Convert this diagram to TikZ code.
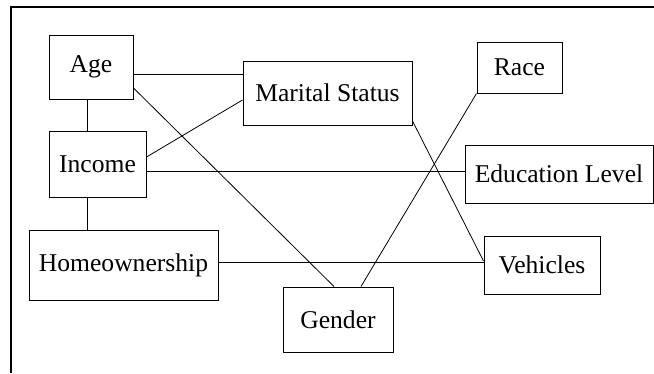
\documentclass[tikz,border=0pt]{standalone}
\usepackage{fontspec}
\setmainfont{Liberation Serif}
\begin{document}
\begin{tikzpicture}[x=1pt,y=-1pt,
  box/.style={draw, line width=1pt, rectangle, inner sep=0pt, font=\fontsize{25.6}{30}\selectfont},
  link/.style={line width=0.8pt},
  frameline/.style={line width=1.3pt}]
\useasboundingbox (0,0) rectangle (654,373);
\coordinate (ftr) at (654,7);
\coordinate (ftl) at (11,7);
\coordinate (fbl) at (11,373);
\draw[frameline] (ftr) -- (ftl) -- (fbl);
\node[box, minimum width=84pt, minimum height=64pt] (age) at (91,67) {Age};
\node[box, minimum width=169pt, minimum height=64pt] (marital) at (327.5,93) {Marital Status};
\node[box, minimum width=97pt, minimum height=66pt] (income) at (97.5,164) {Income};
\node[box, minimum width=189pt, minimum height=70pt] (home) at (123.5,265) {Homeownership};
\node[box, minimum width=110pt, minimum height=65pt] (gender) at (338,319.5) {Gender};
\node[box, minimum width=85pt, minimum height=51pt] (race) at (519.5,67.5) {Race};
\node[box, minimum width=188pt, minimum height=58pt] (edu) at (559,174) {Education Level};
\node[box, minimum width=116pt, minimum height=58pt] (veh) at (542,265) {Vehicles};
\draw[link] ([yshift=-7pt]age.east) -- ([yshift=-7pt]age.east -| marital.west);
\draw[link] ([xshift=-4pt]age.south) -- ([xshift=-4pt]age.south |- income.north);
\draw[link] ([xshift=-10.5pt]income.south) -- ([xshift=-10.5pt]income.south |- home.north);
\draw[link] ([yshift=7pt]income.east) -- ([yshift=-7pt]marital.west);
\draw[link] ([yshift=-7pt]income.east) -- ([yshift=-7pt]income.east -| edu.west);
\draw[link] ([yshift=-21pt]age.east) -- ([xshift=-4pt]gender.north);
\draw[link] ([yshift=3pt]home.east) -- ([yshift=3pt]home.east -| veh.west);
\draw[link] (race.south west) -- ([xshift=23pt]gender.north);
\draw[link] ([yshift=-28pt]marital.east) -- ([yshift=4pt]veh.west);
\end{tikzpicture}
\end{document}
